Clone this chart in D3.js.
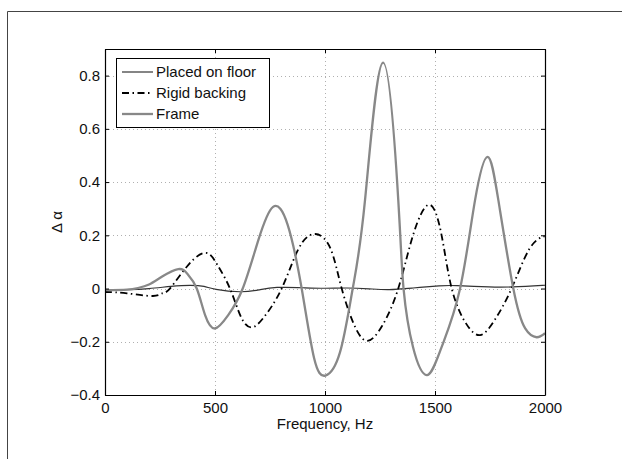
<!DOCTYPE html>
<html>
<head>
<meta charset="utf-8">
<script src="https://cdn.jsdelivr.net/npm/d3@7"></script>
<style>
  body { margin: 0; background: #fff; }
  svg { display: block; font-family: "Liberation Sans", Arial, Helvetica, sans-serif; }
</style>
</head>
<body>
<div id="chart"></div>
<script>
// tick values
var xTicks = [0, 500, 1000, 1500, 2000];
var yTicks = [-0.4, -0.2, 0, 0.2, 0.4, 0.6, 0.8];

// Placed on floor
var floorFreq = [0, 100, 200, 300, 386, 450, 505, 614, 700, 782, 900, 1000, 1100, 1200, 1291, 1400, 1518, 1600, 1745, 1850, 1988, 2000];
var floorVal  = [-0.005, -0.004, 0.0, 0.008, 0.012, 0.008, -0.003, -0.012, -0.005, 0.004, 0.003, 0.001, 0.002, -0.001, -0.004, 0.002, 0.01, 0.011, 0.006, 0.006, 0.012, 0.013];

// Rigid backing
var rigidFreq = [0, 100, 218, 260, 295, 380, 459, 510, 568, 620, 667, 720, 803, 880, 955, 1025, 1076, 1140, 1197, 1260, 1333, 1400, 1474, 1530, 1576, 1640, 1705, 1770, 1848, 1930, 1992, 2000];
var rigidVal  = [-0.013, -0.018, -0.028, -0.018, 0, 0.09, 0.134, 0.09, 0, -0.11, -0.146, -0.11, 0, 0.15, 0.205, 0.15, 0, -0.15, -0.196, -0.14, 0, 0.2, 0.315, 0.2, 0, -0.13, -0.175, -0.12, 0, 0.15, 0.195, 0.197];

// Frame
var frameFreq = [0, 100, 150, 200, 260, 333, 375, 417, 455, 500, 560, 626, 697, 764, 830, 894, 950, 1002, 1068, 1126, 1182, 1264, 1333, 1357, 1400, 1464, 1530, 1614, 1682, 1739, 1788, 1856, 1910, 1962, 2000];
var frameVal  = [-0.006, -0.004, 0.002, 0.015, 0.045, 0.073, 0.055, 0, -0.1, -0.15, -0.1, 0, 0.182, 0.307, 0.24, 0, -0.26, -0.327, -0.24, 0, 0.333, 0.849, 0.333, 0, -0.22, -0.325, -0.22, 0, 0.332, 0.495, 0.332, 0, -0.15, -0.183, -0.168];

var seriesNames = ["Placed on floor", "Rigid backing", "Frame"];

(function () {
    var W = 622, H = 459;
    var mLeft = 105, mRight = 545, mTop = 49, mBottom = 395;

    var svg = d3.select("#chart").append("svg")
        .attr("width", W)
        .attr("height", H);

    svg.append("rect").attr("width", W).attr("height", H).attr("fill", "#fff");

    // figure border (left + top edge only)
    svg.append("path")
        .attr("d", "M7.5," + H + "V11.5H" + W)
        .attr("fill", "none")
        .attr("stroke", "#444")
        .attr("stroke-width", 1);

    var x = d3.scaleLinear().domain([0, 2000]).range([mLeft, mRight]);
    var y = d3.scaleLinear().domain([-0.4, 0.9]).range([mBottom, mTop]);

    // grid
    var grid = svg.append("g")
        .attr("stroke", "#b0b0b0")
        .attr("stroke-width", 1)
        .attr("stroke-dasharray", "1,3");
    grid.selectAll(".gx").data(xTicks.slice(1, -1)).enter().append("line")
        .attr("x1", function (d) { return Math.round(x(d)) + 0.5; })
        .attr("x2", function (d) { return Math.round(x(d)) + 0.5; })
        .attr("y1", mTop).attr("y2", mBottom);
    grid.selectAll(".gy").data(yTicks.slice(1)).enter().append("line")
        .attr("y1", function (d) { return Math.round(y(d)) + 0.5; })
        .attr("y2", function (d) { return Math.round(y(d)) + 0.5; })
        .attr("x1", mLeft).attr("x2", mRight);

    // clip
    svg.append("defs").append("clipPath").attr("id", "clip")
        .append("rect").attr("x", mLeft).attr("y", mTop)
        .attr("width", mRight - mLeft).attr("height", mBottom - mTop);

    var line = d3.line()
        .x(function (d) { return x(d[0]); })
        .y(function (d) { return y(d[1]); })
        .curve(d3.curveNatural);

    function pairs(f, v) {
        return f.map(function (d, i) { return [d, v[i]]; });
    }

    var styles = [
        {color: "#333", width: 1.2, dash: null},
        {color: "#000", width: 1.8, dash: "7,3.5,1.5,3.5"},
        {color: "#888", width: 2.3, dash: null}
    ];

    var curves = svg.append("g").attr("clip-path", "url(#clip)");
    var allData = [pairs(floorFreq, floorVal), pairs(rigidFreq, rigidVal), pairs(frameFreq, frameVal)];

    [0, 1, 2].forEach(function (i) {
        curves.append("path")
            .datum(allData[i])
            .attr("d", line)
            .attr("fill", "none")
            .attr("stroke", styles[i].color)
            .attr("stroke-width", styles[i].width)
            .attr("stroke-dasharray", styles[i].dash)
            .attr("stroke-linejoin", "round");
    });

    // axes
    var fmt = function (d) { return d === 0 ? "0" : d3.format(".1f")(d); };

    var xAxis = svg.append("g")
        .attr("transform", "translate(0," + mBottom + ")")
        .call(d3.axisBottom(x).tickValues(xTicks).tickSizeInner(-4).tickSizeOuter(0).tickPadding(7).tickFormat(d3.format("d")));
    var xTop = svg.append("g")
        .attr("transform", "translate(0," + mTop + ")")
        .call(d3.axisTop(x).tickValues(xTicks).tickSizeInner(-4).tickSizeOuter(0).tickFormat(""));
    var yAxis = svg.append("g")
        .attr("transform", "translate(" + mLeft + ",0)")
        .call(d3.axisLeft(y).tickValues(yTicks).tickSizeInner(-4).tickSizeOuter(0).tickPadding(5).tickFormat(fmt));
    var yRight = svg.append("g")
        .attr("transform", "translate(" + mRight + ",0)")
        .call(d3.axisRight(y).tickValues(yTicks).tickSizeInner(-4).tickSizeOuter(0).tickFormat(""));

    [xAxis, xTop, yAxis, yRight].forEach(function (g) {
        g.selectAll("path.domain").attr("stroke", "#000").attr("stroke-width", 1.2);
        g.selectAll(".tick line").attr("stroke", "#000");
        g.selectAll("text")
            .attr("fill", "#111")
            .style("font-size", "15px")
            .style("font-family", "'Liberation Sans', Arial, sans-serif");
    });

    // axis labels
    svg.append("text")
        .attr("x", (mLeft + mRight) / 2)
        .attr("y", 429)
        .attr("text-anchor", "middle")
        .style("font-size", "15px")
        .attr("fill", "#111")
        .text("Frequency, Hz");

    svg.append("text")
        .attr("transform", "translate(62," + ((mTop + mBottom) / 2) + ") rotate(-90)")
        .attr("text-anchor", "middle")
        .style("font-size", "15px")
        .attr("fill", "#111")
        .text("Δ α");

    // legend
    var legend = svg.append("g");
    legend.append("rect")
        .attr("x", 116.5).attr("y", 58.5)
        .attr("width", 153).attr("height", 69)
        .attr("fill", "#fff")
        .attr("stroke", "#000")
        .attr("stroke-width", 1);

    seriesNames.forEach(function (name, i) {
        var ly = 72 + i * 21;
        legend.append("line")
            .attr("x1", 122).attr("x2", 153)
            .attr("y1", ly).attr("y2", ly)
            .attr("stroke", styles[i].color)
            .attr("stroke-width", i === 0 ? 1.2 : styles[i].width)
            .attr("stroke-dasharray", styles[i].dash);
        legend.append("text")
            .attr("x", 156).attr("y", ly)
            .attr("dy", "0.35em")
            .style("font-size", "15px")
            .attr("fill", "#111")
            .text(name);
    });
})();
</script>
</body>
</html>
